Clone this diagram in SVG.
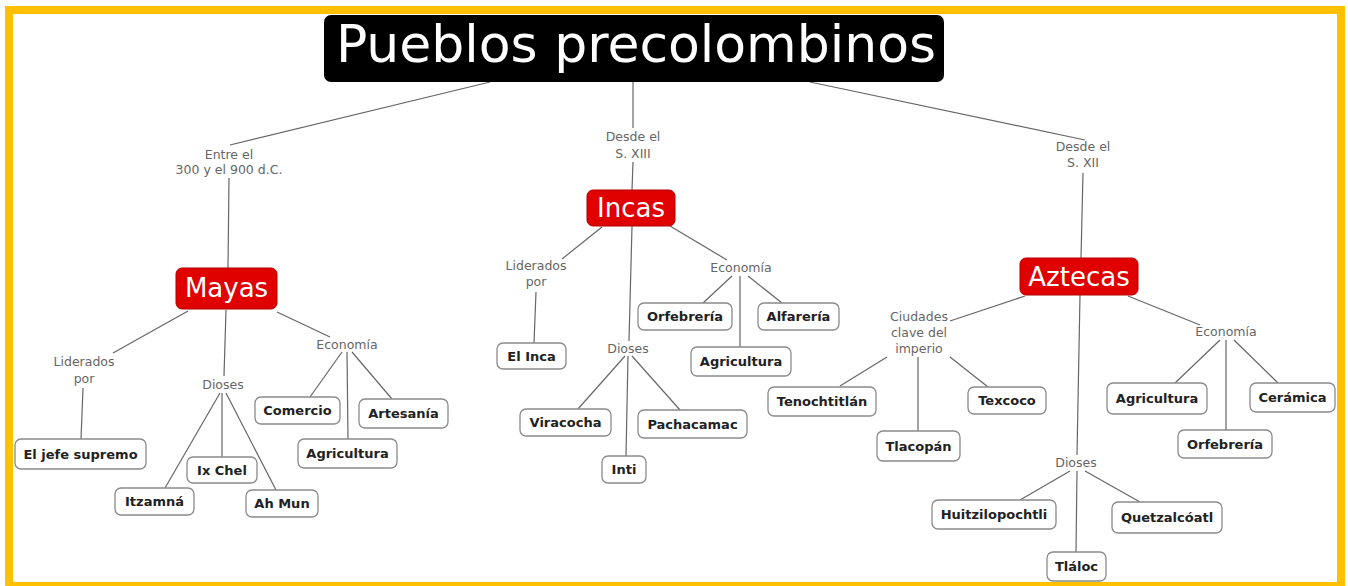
<svg xmlns="http://www.w3.org/2000/svg" width="1348" height="586" viewBox="0 0 1348 586">
<style>
.lbl{font-family:"DejaVu Sans",Verdana,sans-serif;font-size:12.5px;fill:#666;text-anchor:middle}
.box rect{fill:#fff;stroke:#8a8a8a;stroke-width:1.3}
.box text{font-family:"DejaVu Sans",Verdana,sans-serif;font-size:13px;font-weight:bold;fill:#222;text-anchor:middle}
.red rect{fill:#e00000;stroke:#b00000;stroke-width:1}
.red text{font-family:"DejaVu Sans",Verdana,sans-serif;font-size:26px;fill:#fff;text-anchor:middle}
#connectors line{stroke:#666;stroke-width:1.2}
</style>
<rect x="0" y="0" width="1348" height="586" fill="#fff"/>
<rect x="9" y="10" width="1332" height="576" fill="none" stroke="#ffc000" stroke-width="8"/>
<g id="connectors">
<line x1="490" y1="82" x2="230" y2="145"/>
<line x1="633" y1="82" x2="633" y2="128"/>
<line x1="810" y1="82" x2="1085" y2="140"/>
<line x1="229" y1="178" x2="228" y2="268"/>
<line x1="633" y1="162" x2="632" y2="190"/>
<line x1="1083" y1="173" x2="1081" y2="258"/>
<line x1="188" y1="311" x2="113" y2="353"/>
<line x1="83" y1="388" x2="81" y2="439"/>
<line x1="226" y1="310" x2="224" y2="376"/>
<line x1="220" y1="393" x2="165" y2="488"/>
<line x1="222" y1="393" x2="222" y2="457"/>
<line x1="226" y1="393" x2="276" y2="490"/>
<line x1="277" y1="312" x2="330" y2="337"/>
<line x1="342" y1="352" x2="310" y2="397"/>
<line x1="347" y1="352" x2="348" y2="439"/>
<line x1="352" y1="352" x2="392" y2="399"/>
<line x1="602" y1="227" x2="562" y2="259"/>
<line x1="536" y1="292" x2="534" y2="343"/>
<line x1="632" y1="226" x2="629" y2="341"/>
<line x1="625" y1="356" x2="578" y2="409"/>
<line x1="628" y1="356" x2="626" y2="456"/>
<line x1="632" y1="356" x2="680" y2="410"/>
<line x1="670" y1="226" x2="727" y2="260"/>
<line x1="732" y1="276" x2="703" y2="303"/>
<line x1="740" y1="276" x2="740" y2="347"/>
<line x1="748" y1="276" x2="782" y2="303"/>
<line x1="1025" y1="296" x2="950" y2="321"/>
<line x1="887" y1="357" x2="840" y2="386"/>
<line x1="918" y1="357" x2="918" y2="431"/>
<line x1="950" y1="357" x2="988" y2="387"/>
<line x1="1080" y1="295" x2="1077" y2="455"/>
<line x1="1070" y1="471" x2="1020" y2="500"/>
<line x1="1077" y1="471" x2="1076" y2="552"/>
<line x1="1085" y1="471" x2="1140" y2="502"/>
<line x1="1128" y1="296" x2="1200" y2="325"/>
<line x1="1220" y1="340" x2="1175" y2="383"/>
<line x1="1226" y1="340" x2="1226" y2="430"/>
<line x1="1234" y1="340" x2="1278" y2="383"/>
</g>
<g id="title">
<rect x="324" y="15" width="620" height="67" rx="7" fill="#000"/>
<text x="636" y="62" font-family="DejaVu Sans,Verdana,sans-serif" font-size="52" fill="#fff" text-anchor="middle">Pueblos precolombinos</text>
</g>
<g id="lbl-mayas"><text class="lbl" x="229" y="159">Entre el</text><text class="lbl" x="229" y="174">300 y el 900 d.C.</text></g>
<g id="lbl-incas"><text class="lbl" x="633" y="141">Desde el</text><text class="lbl" x="633" y="158">S. XIII</text></g>
<g id="lbl-aztecas"><text class="lbl" x="1083" y="151">Desde el</text><text class="lbl" x="1083" y="167">S. XII</text></g>
<g id="mayas" class="red"><rect x="176" y="268" width="101" height="41" rx="6"/><text x="226.5" y="297">Mayas</text></g>
<g id="incas" class="red"><rect x="587" y="190" width="88" height="36" rx="6"/><text x="631" y="217">Incas</text></g>
<g id="aztecas" class="red"><rect x="1020" y="258" width="118" height="37" rx="6"/><text x="1079" y="286">Aztecas</text></g>
<g id="m-lid"><text class="lbl" x="84" y="366">Liderados</text><text class="lbl" x="84" y="383">por</text></g>
<g id="m-dioses"><text class="lbl" x="223" y="389">Dioses</text></g>
<g id="m-eco"><text class="lbl" x="347" y="349">Economía</text></g>
<g id="m-jefe" class="box"><rect x="15" y="439" width="131" height="30" rx="6"/><text x="80.5" y="459">El jefe supremo</text></g>
<g id="m-itzamna" class="box"><rect x="115" y="488" width="79" height="27" rx="6"/><text x="154.5" y="506">Itzamná</text></g>
<g id="m-ixchel" class="box"><rect x="187" y="457" width="70" height="26" rx="6"/><text x="222" y="475">Ix Chel</text></g>
<g id="m-ahmun" class="box"><rect x="246" y="490" width="72" height="27" rx="6"/><text x="282" y="508">Ah Mun</text></g>
<g id="m-comercio" class="box"><rect x="255" y="397" width="85" height="27" rx="6"/><text x="297.5" y="415">Comercio</text></g>
<g id="m-agri" class="box"><rect x="298" y="439" width="99" height="29" rx="6"/><text x="347.5" y="458">Agricultura</text></g>
<g id="m-arte" class="box"><rect x="359" y="399" width="89" height="29" rx="6"/><text x="403.5" y="418">Artesanía</text></g>
<g id="i-lid"><text class="lbl" x="536" y="270">Liderados</text><text class="lbl" x="536" y="286">por</text></g>
<g id="i-dioses"><text class="lbl" x="628" y="353">Dioses</text></g>
<g id="i-eco"><text class="lbl" x="741" y="272">Economía</text></g>
<g id="i-inca" class="box"><rect x="497" y="343" width="69" height="26" rx="6"/><text x="531.5" y="361">El Inca</text></g>
<g id="i-vira" class="box"><rect x="520" y="409" width="91" height="27" rx="6"/><text x="565.5" y="427">Viracocha</text></g>
<g id="i-inti" class="box"><rect x="602" y="456" width="44" height="27" rx="6"/><text x="624" y="474">Inti</text></g>
<g id="i-pacha" class="box"><rect x="638" y="410" width="109" height="28" rx="6"/><text x="692.5" y="429">Pachacamac</text></g>
<g id="i-orfe" class="box"><rect x="638" y="303" width="94" height="27" rx="6"/><text x="685" y="321">Orfebrería</text></g>
<g id="i-agri" class="box"><rect x="691" y="347" width="100" height="29" rx="6"/><text x="741" y="366">Agricultura</text></g>
<g id="i-alfa" class="box"><rect x="758" y="303" width="81" height="27" rx="6"/><text x="798.5" y="321">Alfarería</text></g>
<g id="a-ciud"><text class="lbl" x="919" y="321">Ciudades</text><text class="lbl" x="919" y="337">clave del</text><text class="lbl" x="919" y="353">imperio</text></g>
<g id="a-dioses"><text class="lbl" x="1076" y="467">Dioses</text></g>
<g id="a-eco"><text class="lbl" x="1226" y="336">Economía</text></g>
<g id="a-teno" class="box"><rect x="768" y="387" width="108" height="29" rx="6"/><text x="822" y="406">Tenochtitlán</text></g>
<g id="a-tlaco" class="box"><rect x="877" y="431" width="83" height="30" rx="6"/><text x="918.5" y="451">Tlacopán</text></g>
<g id="a-texco" class="box"><rect x="968" y="387" width="78" height="27" rx="6"/><text x="1007" y="405">Texcoco</text></g>
<g id="a-huitzi" class="box"><rect x="932" y="500" width="124" height="29" rx="6"/><text x="994" y="519">Huitzilopochtli</text></g>
<g id="a-tlaloc" class="box"><rect x="1047" y="552" width="59" height="29" rx="6"/><text x="1076.5" y="571">Tláloc</text></g>
<g id="a-quetza" class="box"><rect x="1112" y="502" width="110" height="31" rx="6"/><text x="1167" y="522">Quetzalcóatl</text></g>
<g id="a-agri" class="box"><rect x="1107" y="383" width="100" height="31" rx="6"/><text x="1157" y="403">Agricultura</text></g>
<g id="a-orfe" class="box"><rect x="1178" y="430" width="94" height="28" rx="6"/><text x="1225" y="449">Orfebrería</text></g>
<g id="a-cera" class="box"><rect x="1250" y="383" width="85" height="29" rx="6"/><text x="1292.5" y="402">Cerámica</text></g>
</svg>
